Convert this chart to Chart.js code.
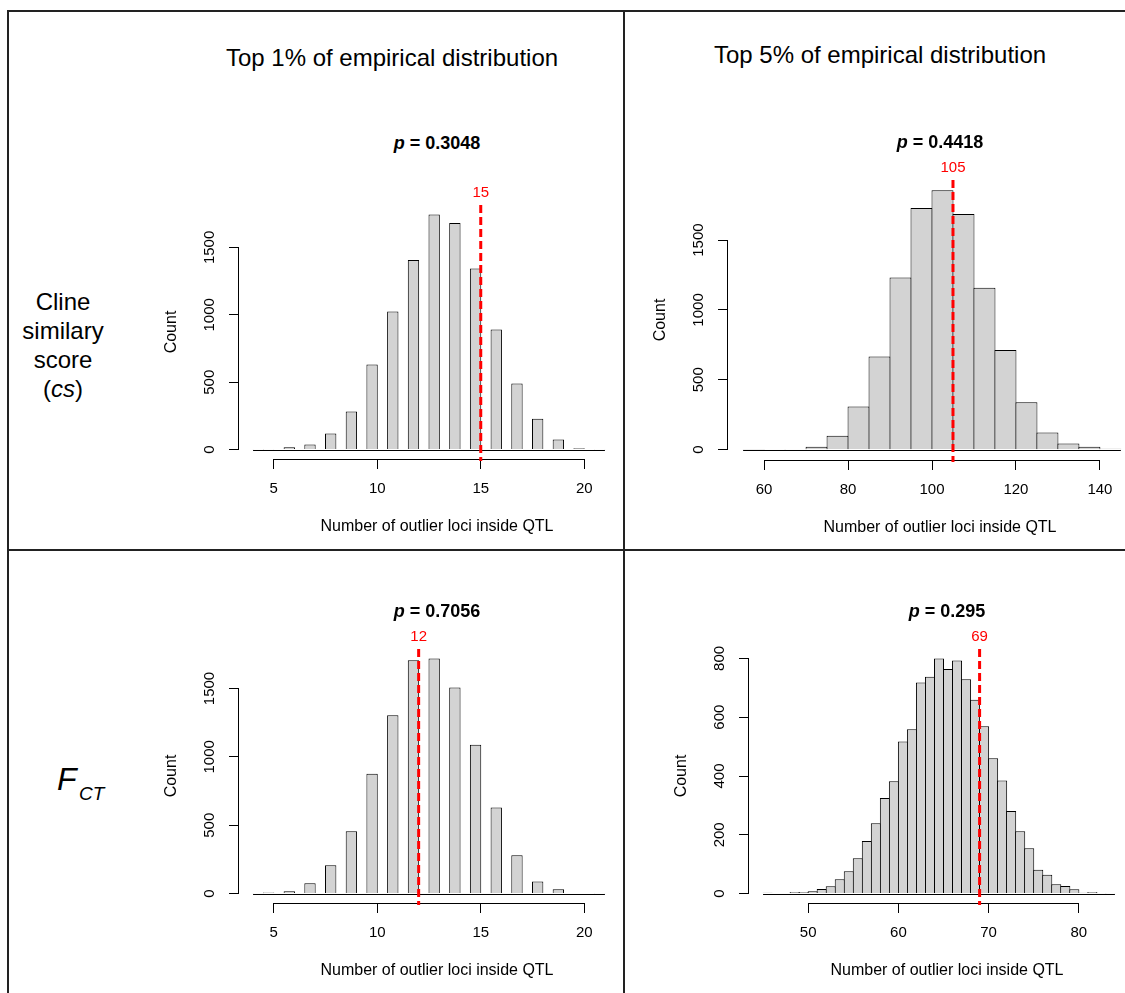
<!DOCTYPE html>
<html>
<head>
<meta charset="utf-8">
<script src="https://cdn.jsdelivr.net/npm/chart.js@4.4.1/dist/chart.umd.min.js"></script>
<style>
  body { margin: 0; background: #fff; }
  #page { position: relative; width: 1125px; height: 993px; overflow: hidden; background: #fff;
          font-family: 'Liberation Sans', Arial, Helvetica, sans-serif; color: #000; }
  #page canvas { position: absolute; }
  .rule { position: absolute; background: #222; z-index: 5; }
  .txt { position: absolute; line-height: 1; white-space: nowrap; }
</style>
</head>
<body>
<div id="page">
  <div class="txt" style="left:92px;width:600px;top:46px;font-size:24px;text-align:center">Top 1% of empirical distribution</div>
  <div class="txt" style="left:580px;width:600px;top:43px;font-size:24px;text-align:center">Top 5% of empirical distribution</div>

  <div class="txt" style="left:3px;width:120px;top:287px;font-size:24px;line-height:29px;text-align:center">Cline<br>similary<br>score<br>(<i>cs</i>)</div>
  <div class="txt" style="left:57px;top:763px;font-size:32px;font-style:italic">F</div>
  <div class="txt" style="left:79px;top:784px;font-size:19px;font-style:italic">CT</div>

  <div class="rule" style="left:7px;top:10px;width:1118px;height:2px"></div>
  <div class="rule" style="left:7px;top:10px;width:2px;height:983px"></div>
  <div class="rule" style="left:623px;top:10px;width:2px;height:983px"></div>
  <div class="rule" style="left:7px;top:549px;width:1118px;height:2px"></div>
</div>

<script>
const FONT = "'Liberation Sans', Arial, Helvetica, sans-serif"

// cline similarity score, top 1%: bins of 0.5 starting at 4 (odd bins are empty)
const csTop1Start = 4
const csTop1Width = 0.5
const csTop1Counts = [3, 3, 0, 17, 0, 37, 0, 119, 0, 282, 0, 631, 0, 1025, 0, 1406, 0, 1745,
  0, 1681, 0, 1344, 0, 891, 0, 490, 0, 228, 0, 74, 0, 10, 0, 3]
const csTop1Obs = 15
const csTop1P = '0.3048'
const csTop1XTicks = [5, 10, 15, 20]
const csTop1YTicks = [0, 500, 1000, 1500]

// cline similarity score, top 5%: bins of 5 starting at 55
const csTop5Start = 55
const csTop5Width = 5
const csTop5Counts = [1, 4, 5, 21, 100, 308, 667, 1233, 1730, 1856, 1687, 1159, 714, 339, 122, 43, 21, 7]
const csTop5Obs = 105
const csTop5P = '0.4418'
const csTop5XTicks = [60, 80, 100, 120, 140]
const csTop5YTicks = [0, 500, 1000, 1500]

// FCT, top 1%
const fctTop1Start = 4
const fctTop1Width = 0.5
const fctTop1Counts = [3, 8, 0, 17, 0, 76, 0, 207, 0, 456, 0, 876, 0, 1305, 0, 1707, 0, 1720,
  0, 1507, 0, 1088, 0, 629, 0, 280, 0, 88, 0, 32, 0, 5, 0, 2]
const fctTop1Obs = 12
const fctTop1P = '0.7056'
const fctTop1XTicks = [5, 10, 15, 20]
const fctTop1YTicks = [0, 500, 1000, 1500]

// FCT, top 5%: bins of 1 starting at 45
const fctTop5Start = 45
const fctTop5Width = 1
const fctTop5Counts = [3, 0, 2, 5, 5, 8, 16, 25, 49, 76, 120, 179, 239, 325, 382, 517, 559, 718, 738,
  800, 764, 793, 729, 659, 569, 460, 385, 281, 212, 154, 81, 64, 32, 26, 15, 3, 5, 1, 1]
const fctTop5Obs = 69
const fctTop5P = '0.295'
const fctTop5XTicks = [50, 60, 70, 80]
const fctTop5YTicks = [0, 200, 400, 600, 800]

const xLabel = 'Number of outlier loci inside QTL'
const yLabel = 'Count'

// plot regions (pixels on the page)
const boxes = {
  csTop1: { left: 239, top: 205, width: 380, height: 254 },
  csTop5: { left: 728, top: 180, width: 408, height: 280 },
  fctTop1: { left: 239, top: 649, width: 380, height: 254 },
  fctTop5: { left: 749, top: 649, width: 380, height: 254 }
}

const AXIS_W = 77   // room left of plot for tick labels + "Count"
const AXIS_H = 77   // room below plot for tick labels + x title
const TOP_PAD = 40
const EXTRA_R = 16  // the x title sits a little right of the plot centre

const measure = (text, size) => {
  const c = document.createElement('canvas').getContext('2d')
  c.font = `${size}px ${FONT}`
  return c.measureText(text).width
}

// R-like bits: axis lines only between the end ticks, baseline, observed value
const rBits = {
  id: 'rBits',
  afterDatasetsDraw(chart, args, opts) {
    const { ctx, chartArea, scales: { x, y } } = chart
    ctx.save()
    ctx.strokeStyle = '#000'
    ctx.lineWidth = 1

    const y0 = Math.round(y.getPixelForValue(0)) + 0.5
    ctx.beginPath()
    ctx.moveTo(x.getPixelForValue(opts.lo), y0)
    ctx.lineTo(x.getPixelForValue(opts.hi), y0)
    ctx.stroke()

    const ax = Math.round(chartArea.bottom) + 0.5
    ctx.beginPath()
    ctx.moveTo(x.getPixelForValue(opts.xTicks[0]), ax)
    ctx.lineTo(x.getPixelForValue(opts.xTicks[opts.xTicks.length - 1]), ax)
    ctx.stroke()

    const ay = Math.round(chartArea.left) - 0.5
    ctx.beginPath()
    ctx.moveTo(ay, y.getPixelForValue(opts.yTicks[0]))
    ctx.lineTo(ay, y.getPixelForValue(opts.yTicks[opts.yTicks.length - 1]))
    ctx.stroke()

    const vx = x.getPixelForValue(opts.obs)
    ctx.strokeStyle = '#ff0000'
    ctx.lineWidth = 3
    ctx.setLineDash([8, 4])
    ctx.beginPath()
    ctx.moveTo(vx, chartArea.top)
    ctx.lineTo(vx, chartArea.bottom + 2)
    ctx.stroke()
    ctx.setLineDash([])

    ctx.fillStyle = '#ff0000'
    ctx.font = `15px ${FONT}`
    ctx.textAlign = 'center'
    ctx.textBaseline = 'middle'
    ctx.fillText(String(opts.obs), vx, chartArea.top - 12)
    ctx.restore()
  }
}

const makeHist = (box, start, width, counts, obs, pValue, xTicks, yTicks) => {
  const page = document.getElementById('page')
  const canvas = document.createElement('canvas')
  canvas.width = AXIS_W + box.width + EXTRA_R + 2
  canvas.height = TOP_PAD + box.height + AXIS_H
  canvas.style.left = (box.left - AXIS_W) + 'px'
  canvas.style.top = (box.top - TOP_PAD) + 'px'
  page.appendChild(canvas)

  // title: bold, with italic p
  const title = document.createElement('div')
  title.className = 'txt'
  title.style.cssText = `left:${box.left + (box.width + EXTRA_R) / 2 - 100}px;width:200px;` +
    `top:${box.top - (box === boxes.csTop1 ? 71 : 47)}px;font-size:18px;font-weight:bold;text-align:center`
  title.innerHTML = `<i>p</i> = ${pValue}`
  page.appendChild(title)

  const lo = start
  const hi = start + counts.length * width
  const span = hi - lo
  const xMin = lo - 0.04 * span
  const xMaxR = hi + 0.04 * span
  const pxPerUnit = box.width / (xMaxR - xMin)
  const xMax = xMaxR + EXTRA_R / pxPerUnit
  const top = Math.max(...counts)
  const stepPx = width * pxPerUnit

  const widest = Math.max(...yTicks.map(v => measure(String(v), 15)))

  const grid = {
    display: true, drawOnChartArea: false, drawTicks: true,
    tickLength: 10, tickColor: '#000', tickWidth: 1, offset: false
  }

  return new Chart(canvas, {
    type: 'bar',
    data: {
      datasets: [{
        data: counts.map((c, i) => ({ x: start + (i + 0.5) * width, y: c })),
        backgroundColor: '#d3d3d3',
        borderColor: '#000',
        borderWidth: 1,
        borderSkipped: 'start',
        barThickness: stepPx + 1,
        inflateAmount: 0
      }]
    },
    options: {
      responsive: false,
      animation: false,
      layout: { padding: { top: TOP_PAD, right: 2, left: 0, bottom: 0 } },
      plugins: {
        legend: { display: false },
        tooltip: { enabled: false },
        rBits: { lo, hi, obs, xTicks, yTicks }
      },
      scales: {
        x: {
          type: 'linear', min: xMin, max: xMax, offset: false,
          afterBuildTicks: s => { s.ticks = xTicks.map(v => ({ value: v })) },
          afterFit: s => { s.height = AXIS_H },
          grid,
          border: { display: false },
          ticks: {
            color: '#000', font: { family: FONT, size: 15 }, padding: 11,
            maxRotation: 0, autoSkip: false, callback: v => String(v)
          },
          title: { display: true, text: xLabel, color: '#000', font: { family: FONT, size: 16 }, padding: 0 }
        },
        y: {
          type: 'linear', min: -0.04 * top, max: 1.04 * top,
          afterBuildTicks: s => { s.ticks = yTicks.map(v => ({ value: v })) },
          afterFit: s => { s.width = AXIS_W },
          grid,
          border: { display: false },
          ticks: {
            color: '#000', font: { family: FONT, size: 15 }, padding: 19 - widest / 2,
            minRotation: 90, maxRotation: 90, crossAlign: 'center', autoSkip: false,
            callback: v => String(v)
          },
          title: { display: true, text: yLabel, color: '#000', font: { family: FONT, size: 16 }, padding: 0 }
        }
      }
    },
    plugins: [rBits]
  })
}

makeHist(boxes.csTop1, csTop1Start, csTop1Width, csTop1Counts, csTop1Obs, csTop1P, csTop1XTicks, csTop1YTicks)
makeHist(boxes.csTop5, csTop5Start, csTop5Width, csTop5Counts, csTop5Obs, csTop5P, csTop5XTicks, csTop5YTicks)
makeHist(boxes.fctTop1, fctTop1Start, fctTop1Width, fctTop1Counts, fctTop1Obs, fctTop1P, fctTop1XTicks, fctTop1YTicks)
makeHist(boxes.fctTop5, fctTop5Start, fctTop5Width, fctTop5Counts, fctTop5Obs, fctTop5P, fctTop5XTicks, fctTop5YTicks)
</script>
</body>
</html>
